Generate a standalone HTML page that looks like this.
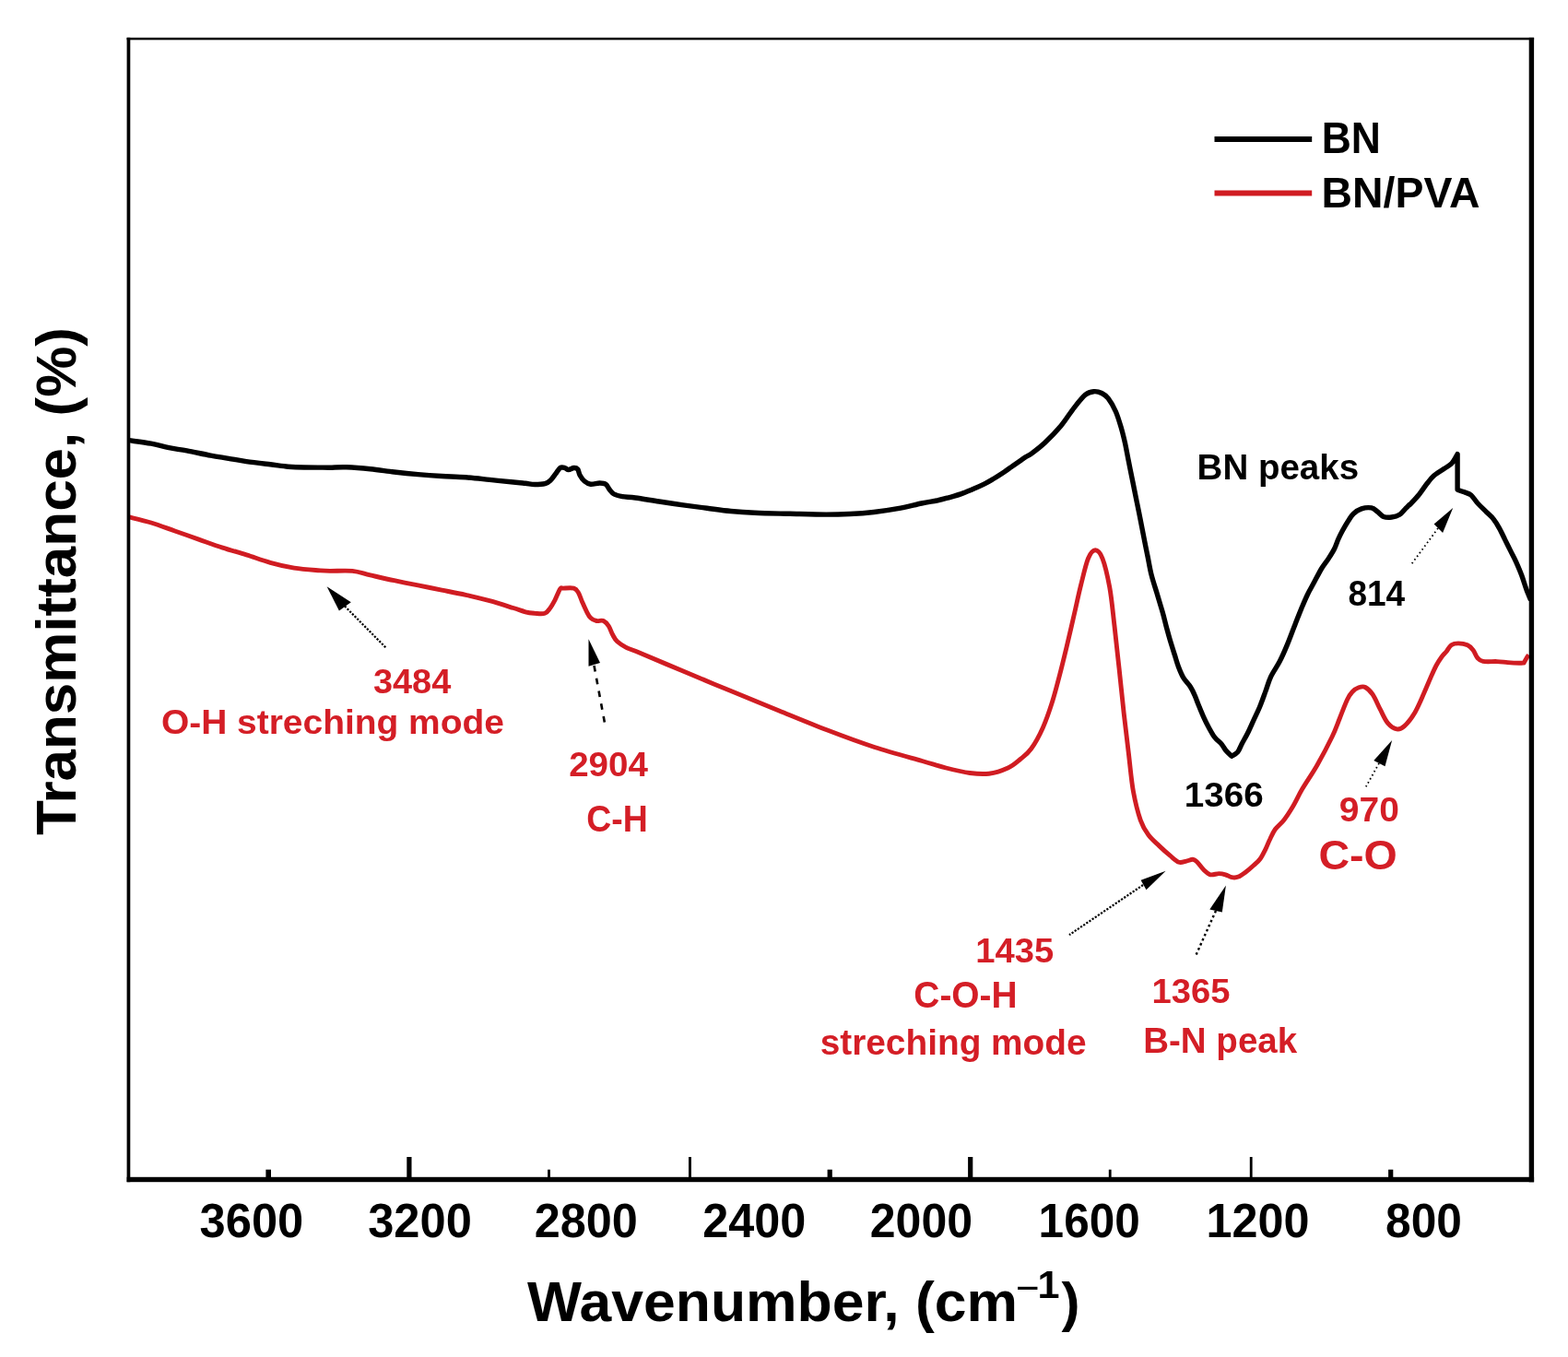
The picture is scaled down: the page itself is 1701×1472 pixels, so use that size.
<!DOCTYPE html>
<html><head><meta charset="utf-8"><title>FTIR spectra BN and BN/PVA</title>
<style>html,body{margin:0;padding:0;background:#fff;} svg{display:block;}</style>
</head><body>
<svg width="1701" height="1472" viewBox="0 0 1701 1472">
<rect width="1701" height="1472" fill="#fff"/>
<g font-family="Liberation Sans, Arial, sans-serif" font-weight="bold">
<text transform="translate(216.6,1341.5) scale(0.972,1)" font-size="52.11" fill="#000">3600</text>
<text transform="translate(399.2,1341.5) scale(0.972,1)" font-size="52.11" fill="#000">3200</text>
<text transform="translate(579.7,1341.5) scale(0.967,1)" font-size="52.11" fill="#000">2800</text>
<text transform="translate(762.2,1341.5) scale(0.967,1)" font-size="52.11" fill="#000">2400</text>
<text transform="translate(943.8,1341.5) scale(0.960,1)" font-size="52.11" fill="#000">2000</text>
<text transform="translate(1126.6,1341.5) scale(0.950,1)" font-size="52.11" fill="#000">1600</text>
<text transform="translate(1308.5,1341.5) scale(0.966,1)" font-size="52.11" fill="#000">1200</text>
<text transform="translate(1503.1,1341.5) scale(0.952,1)" font-size="52.11" fill="#000">800</text>
<text transform="translate(1433.7,166.3) scale(0.929,1)" font-size="47.83" fill="#000">BN</text>
<text x="1433.6" y="225.4" font-size="46.38" fill="#000">BN/PVA</text>
<text transform="translate(1298.6,520.0) scale(0.981,1)" font-size="39.26" fill="#000">BN peaks</text>
<text transform="translate(1462.4,656.9) scale(0.973,1)" font-size="38.03" fill="#000">814</text>
<text transform="translate(1284.7,874.9) scale(1.035,1)" font-size="37.32" fill="#000">1366</text>
<text transform="translate(404.9,751.9) scale(1.044,1)" font-size="36.34" fill="#d41e26">3484</text>
<text transform="translate(174.9,796.1) scale(1.040,1)" font-size="37.45" fill="#d41e26">O-H streching mode</text>
<text transform="translate(617.2,842.4) scale(1.021,1)" font-size="37.75" fill="#d41e26">2904</text>
<text transform="translate(636.2,902.1) scale(0.911,1)" font-size="41.13" fill="#d41e26">C-H</text>
<text transform="translate(1452.8,891.1) scale(1.041,1)" font-size="37.46" fill="#d41e26">970</text>
<text transform="translate(1430.4,942.9) scale(1.030,1)" font-size="45.21" fill="#d41e26">C-O</text>
<text transform="translate(1058.3,1043.8) scale(1.032,1)" font-size="37.04" fill="#d41e26">1435</text>
<text transform="translate(991.3,1092.7) scale(0.979,1)" font-size="39.72" fill="#d41e26">C-O-H</text>
<text transform="translate(889.7,1144.4) scale(1.019,1)" font-size="38.09" fill="#d41e26">streching mode</text>
<text transform="translate(1249.5,1087.8) scale(1.027,1)" font-size="37.18" fill="#d41e26">1365</text>
<text transform="translate(1240.2,1142.2) scale(0.979,1)" font-size="39.36" fill="#d41e26">B-N peak</text>
<text transform="translate(572,1432.5) scale(1.024,1)" font-size="61" fill="#000">Wavenumber, (cm</text><text x="1102" y="1412.2" font-size="44" font-weight="normal" fill="#000">−</text><text x="1125.5" y="1407.9" font-size="43.2" fill="#000">1</text><text x="1151.4" y="1432.5" font-size="60" fill="#000">)</text>
<text transform="translate(81.5,906) rotate(-90) scale(1.016,1)" font-size="61" fill="#000">Transmittance, (%)</text>
</g>
<path d="M140.0,477.7 C144.0,478.3 156.7,479.9 163.9,481.2 C171.1,482.5 176.8,484.4 183.3,485.7 C189.8,487.0 195.2,487.5 202.7,488.9 C210.2,490.3 221.0,492.7 228.5,494.1 C236.0,495.5 241.4,496.2 247.9,497.3 C254.4,498.4 259.8,499.5 267.3,500.6 C274.9,501.7 285.6,502.9 293.2,503.8 C300.8,504.7 306.5,505.7 312.6,506.2 C318.7,506.7 324.6,506.9 330.0,507.0 C335.4,507.1 340.2,507.1 344.9,507.1 C349.5,507.1 352.7,507.2 357.9,507.2 C363.1,507.1 368.6,506.5 375.9,506.8 C383.2,507.1 393.1,507.9 401.7,508.8 C410.3,509.7 419.0,511.0 427.6,512.0 C436.2,513.0 444.9,513.9 453.5,514.6 C462.1,515.4 470.7,516.0 479.3,516.5 C487.9,517.0 496.6,517.1 505.2,517.8 C513.8,518.4 522.5,519.5 531.1,520.4 C539.7,521.3 550.4,522.4 556.9,523.0 C563.4,523.6 566.0,523.9 569.9,524.3 C573.8,524.7 576.4,525.5 580.0,525.5 C583.6,525.5 588.5,525.3 591.3,524.6 C594.1,523.9 595.1,523.1 597.0,521.3 C598.9,519.5 601.0,516.2 602.8,513.9 C604.6,511.6 606.1,508.6 607.7,507.5 C609.4,506.4 611.2,507.1 612.7,507.5 C614.2,507.9 615.1,509.6 616.8,509.6 C618.4,509.6 621.0,507.6 622.6,507.5 C624.2,507.4 625.6,507.7 626.7,509.0 C627.8,510.3 627.9,513.3 629.1,515.5 C630.3,517.7 632.2,520.4 634.1,522.0 C636.0,523.6 638.0,524.9 640.7,525.2 C643.4,525.5 647.8,524.0 650.5,524.0 C653.2,524.0 655.3,524.0 657.1,525.2 C658.9,526.4 659.7,529.2 661.2,531.0 C662.7,532.8 663.9,534.7 666.2,536.0 C668.5,537.3 671.4,537.9 675.2,538.6 C679.1,539.3 682.7,539.1 689.3,540.0 C695.9,540.9 706.4,542.7 715.0,544.0 C723.6,545.3 732.4,546.6 741.1,547.8 C749.8,549.0 758.4,550.2 767.0,551.3 C775.6,552.4 784.2,553.7 792.8,554.5 C801.4,555.3 808.0,555.8 818.7,556.3 C829.4,556.8 844.1,557.0 857.0,557.3 C869.9,557.6 885.5,558.1 896.3,558.1 C907.1,558.1 913.4,557.9 922.0,557.5 C930.6,557.1 939.3,556.5 948.0,555.5 C956.7,554.5 965.4,553.3 974.0,551.7 C982.6,550.1 992.6,547.5 999.7,546.0 C1006.8,544.5 1011.5,544.0 1016.4,543.0 C1021.3,542.0 1024.7,541.0 1029.0,539.8 C1033.3,538.6 1038.0,537.4 1042.3,535.9 C1046.6,534.4 1050.7,532.6 1055.0,530.8 C1059.3,529.0 1064.3,526.8 1068.1,524.9 C1071.9,523.0 1074.8,521.2 1078.0,519.3 C1081.2,517.4 1084.3,515.4 1087.5,513.3 C1090.7,511.2 1093.8,508.9 1097.0,506.6 C1100.2,504.3 1104.2,501.6 1106.9,499.7 C1109.6,497.8 1110.8,496.9 1113.0,495.5 C1115.2,494.1 1116.5,493.9 1119.9,491.3 C1123.3,488.8 1128.3,485.1 1133.5,480.2 C1138.7,475.3 1145.8,468.0 1151.1,461.7 C1156.4,455.4 1160.8,447.9 1165.2,442.3 C1169.6,436.7 1174.0,431.1 1177.5,428.2 C1181.0,425.3 1183.5,425.0 1186.4,424.7 C1189.4,424.4 1192.6,425.2 1195.2,426.5 C1197.8,427.8 1199.7,428.9 1202.2,432.2 C1204.7,435.5 1208.0,441.1 1210.4,446.5 C1212.8,451.9 1214.8,459.0 1216.5,464.8 C1218.2,470.6 1219.2,475.0 1220.6,481.1 C1221.9,487.2 1223.2,494.7 1224.6,501.5 C1225.9,508.3 1227.3,515.1 1228.7,521.9 C1230.1,528.7 1231.4,535.5 1232.8,542.3 C1234.2,549.1 1235.6,555.8 1236.9,562.6 C1238.2,569.4 1239.6,576.2 1240.9,583.0 C1242.2,589.8 1243.6,596.6 1245.0,603.4 C1246.4,610.2 1247.4,616.9 1249.1,623.7 C1250.8,630.5 1253.2,637.3 1255.2,644.1 C1257.2,650.9 1259.6,658.5 1261.3,664.5 C1263.0,670.5 1264.0,675.2 1265.3,680.0 C1266.6,684.8 1267.4,687.9 1268.9,693.0 C1270.4,698.1 1272.7,705.3 1274.3,710.4 C1275.9,715.5 1276.9,719.3 1278.5,723.5 C1280.1,727.7 1281.7,731.8 1283.9,735.4 C1286.1,739.0 1289.5,742.1 1291.5,745.2 C1293.5,748.3 1294.5,750.6 1295.9,753.9 C1297.4,757.2 1298.6,760.8 1300.2,764.8 C1301.8,768.8 1303.9,773.8 1305.7,777.8 C1307.5,781.8 1309.1,785.1 1311.1,788.7 C1313.1,792.3 1315.2,796.5 1317.6,799.6 C1319.9,802.7 1323.2,804.9 1325.2,807.2 C1327.2,809.6 1327.8,811.5 1329.6,813.7 C1331.4,815.9 1335.0,819.1 1336.1,820.2 C1337.2,819.5 1340.8,818.1 1342.6,815.9 C1344.4,813.7 1345.2,810.7 1347.0,807.2 C1348.8,803.8 1351.3,799.6 1353.5,795.2 C1355.7,790.9 1357.8,785.8 1360.0,781.1 C1362.2,776.4 1364.3,772.2 1366.5,767.0 C1368.7,761.8 1371.0,755.1 1373.0,749.6 C1375.0,744.1 1376.0,739.6 1378.5,734.3 C1381.0,728.9 1385.2,723.3 1388.2,717.5 C1391.2,711.7 1393.5,706.4 1396.3,699.6 C1399.1,692.8 1402.6,683.2 1405.2,676.7 C1407.8,670.2 1409.5,665.6 1411.7,660.4 C1413.9,655.1 1415.9,650.1 1418.3,645.2 C1420.7,640.3 1423.4,635.8 1425.9,631.1 C1428.4,626.4 1431.0,621.2 1433.5,617.0 C1436.0,612.8 1438.8,609.7 1441.1,606.1 C1443.4,602.5 1445.8,598.8 1447.6,595.2 C1449.4,591.6 1450.5,587.5 1452.0,584.3 C1453.5,581.0 1454.5,579.0 1456.3,575.7 C1458.1,572.5 1460.8,567.9 1462.8,564.8 C1464.8,561.7 1465.9,559.4 1468.3,557.2 C1470.7,555.1 1473.8,553.0 1477.0,551.9 C1480.2,550.8 1484.9,550.4 1487.8,550.9 C1490.7,551.4 1492.1,553.4 1494.3,555.0 C1496.5,556.6 1498.4,559.4 1500.9,560.4 C1503.5,561.4 1506.7,561.4 1509.6,561.0 C1512.5,560.6 1515.8,559.8 1518.3,558.3 C1520.8,556.8 1523.0,553.5 1524.8,551.7 C1526.6,549.9 1528.3,548.1 1529.1,547.4 C1529.9,546.6 1528.0,549.1 1529.8,547.2 C1531.5,545.3 1536.5,540.0 1539.6,536.2 C1542.6,532.4 1545.4,527.9 1548.1,524.5 C1550.8,521.1 1552.4,518.7 1555.5,516.0 C1558.6,513.3 1563.2,510.8 1566.5,508.5 C1569.8,506.2 1572.6,505.2 1575.0,502.5 C1577.4,499.8 1580.1,494.2 1581.1,492.5 C1581.1,499.0 1581.1,524.8 1581.1,531.3 C1582.3,531.7 1586.0,532.8 1588.5,533.8 C1591.0,534.8 1593.4,535.0 1595.8,537.0 C1598.2,539.0 1600.2,542.9 1603.1,546.0 C1605.9,549.1 1610.1,552.9 1612.9,555.8 C1615.8,558.6 1618.0,560.2 1620.2,563.1 C1622.5,566.0 1624.4,569.2 1626.4,572.9 C1628.5,576.6 1630.5,581.0 1632.5,585.1 C1634.5,589.2 1636.6,593.3 1638.6,597.4 C1640.6,601.5 1642.7,605.1 1644.7,609.6 C1646.7,614.1 1649.0,619.4 1650.8,624.3 C1652.6,629.2 1654.1,634.4 1655.7,638.9 C1657.3,643.4 1659.8,649.1 1660.6,651.1" fill="none" stroke="#000" stroke-width="5.4" stroke-linejoin="round"/>
<path d="M140.0,560.9 C144.0,561.9 155.6,564.5 163.9,567.0 C172.2,569.5 181.1,573.0 189.7,576.0 C198.3,579.0 207.0,582.1 215.6,585.1 C224.2,588.1 232.9,591.3 241.5,594.1 C250.1,596.9 258.7,599.2 267.3,601.9 C275.9,604.6 284.6,607.9 293.2,610.3 C301.8,612.7 310.5,614.7 319.1,616.1 C327.7,617.5 338.4,618.2 344.9,618.7 C351.4,619.2 351.7,619.3 357.9,619.4 C364.1,619.5 375.0,618.6 382.3,619.4 C389.6,620.1 394.1,622.2 401.7,623.9 C409.2,625.6 419.0,627.9 427.6,629.7 C436.2,631.5 444.9,633.2 453.5,634.9 C462.1,636.6 470.7,638.4 479.3,640.1 C487.9,641.8 496.6,643.4 505.2,645.3 C513.8,647.2 522.5,649.3 531.1,651.7 C539.7,654.1 550.4,657.5 556.9,659.5 C563.4,661.5 566.1,662.8 570.0,663.8 C573.9,664.8 576.5,665.0 580.0,665.3 C583.5,665.5 588.3,666.3 591.1,665.3 C593.9,664.3 595.1,661.8 596.9,659.5 C598.7,657.2 600.0,654.7 601.8,651.3 C603.6,647.9 606.1,641.1 607.6,638.9 C609.1,636.7 608.5,638.2 611.0,638.1 C613.5,638.0 619.9,637.3 622.6,638.1 C625.4,638.9 626.0,640.5 627.5,643.0 C629.0,645.5 630.1,649.5 631.6,652.9 C633.1,656.3 635.0,660.7 636.5,663.6 C638.0,666.5 638.9,668.6 640.7,670.2 C642.5,671.9 644.9,673.0 647.2,673.5 C649.5,674.0 652.5,672.5 654.7,673.5 C656.9,674.5 658.8,676.8 660.4,679.3 C662.0,681.8 663.0,685.6 664.5,688.3 C666.0,691.0 667.0,693.4 669.5,695.7 C672.0,698.0 675.9,700.5 679.3,702.3 C682.7,704.1 679.6,702.3 690.0,706.6 C700.4,710.9 724.5,721.1 741.7,728.3 C759.0,735.5 776.2,742.7 793.5,749.8 C810.8,756.9 828.0,764.0 845.2,771.0 C862.4,778.0 879.6,785.2 896.9,791.8 C914.1,798.4 931.5,804.9 948.7,810.5 C966.0,816.1 987.5,821.8 1000.4,825.5 C1013.3,829.2 1017.7,830.8 1026.3,833.0 C1034.9,835.2 1044.3,837.5 1052.1,838.5 C1059.8,839.5 1065.9,840.1 1072.8,839.2 C1079.7,838.3 1087.8,835.6 1093.5,833.0 C1099.2,830.4 1102.7,827.0 1106.9,823.5 C1111.1,820.0 1114.5,818.0 1118.6,812.3 C1122.7,806.6 1127.6,797.8 1131.4,789.2 C1135.2,780.6 1138.7,770.3 1141.7,760.8 C1144.7,751.3 1146.9,742.3 1149.5,732.4 C1152.1,722.5 1154.6,712.2 1157.2,701.4 C1159.8,690.6 1162.4,679.0 1165.0,667.8 C1167.6,656.6 1170.1,644.5 1172.7,634.2 C1175.3,623.9 1177.9,612.0 1180.5,605.8 C1183.1,599.6 1185.6,596.8 1188.2,596.8 C1190.8,596.8 1193.4,599.1 1196.0,605.8 C1198.6,612.5 1201.5,624.8 1203.7,636.8 C1205.9,648.8 1207.2,663.5 1208.9,678.1 C1210.6,692.7 1212.3,708.7 1214.0,724.6 C1215.7,740.5 1217.5,758.2 1219.2,773.7 C1220.9,789.2 1222.7,803.4 1224.4,817.6 C1226.1,831.8 1227.3,846.9 1229.5,858.9 C1231.7,870.9 1234.6,882.1 1237.3,889.9 C1240.0,897.7 1242.5,901.2 1245.9,905.8 C1249.3,910.4 1253.7,913.9 1257.6,917.6 C1261.5,921.3 1265.9,925.3 1269.4,928.2 C1272.9,931.1 1275.9,934.2 1278.8,935.2 C1281.7,936.2 1284.5,934.6 1287.0,934.1 C1289.5,933.6 1292.1,932.1 1294.1,932.3 C1296.1,932.5 1296.8,933.3 1298.8,935.2 C1300.8,937.1 1303.4,941.2 1305.8,943.5 C1308.2,945.8 1310.2,948.1 1312.9,948.8 C1315.7,949.5 1319.5,947.6 1322.3,947.6 C1325.0,947.6 1327.1,948.1 1329.4,948.8 C1331.8,949.5 1334.1,951.3 1336.4,951.7 C1338.8,952.1 1341.0,952.1 1343.5,951.1 C1346.0,950.1 1349.0,947.8 1351.7,945.8 C1354.4,943.8 1357.4,941.1 1359.9,938.8 C1362.5,936.4 1364.8,934.7 1367.0,931.7 C1369.2,928.8 1371.1,924.6 1372.9,921.1 C1374.7,917.6 1375.8,914.1 1377.6,910.5 C1379.3,906.9 1380.9,903.0 1383.4,899.5 C1386.0,896.0 1389.8,893.4 1392.9,889.4 C1396.1,885.4 1399.0,880.8 1402.3,875.3 C1405.6,869.8 1408.2,863.6 1412.6,856.1 C1417.0,848.6 1423.5,839.5 1428.9,830.0 C1434.3,820.5 1441.1,807.5 1445.2,799.0 C1449.3,790.5 1450.7,785.7 1453.4,779.0 C1456.1,772.3 1459.2,763.8 1461.5,759.0 C1463.8,754.2 1464.9,752.7 1467.0,750.5 C1469.1,748.3 1471.7,746.6 1474.0,745.8 C1476.3,745.0 1478.6,744.2 1481.1,745.5 C1483.6,746.8 1486.5,749.4 1489.2,753.4 C1491.9,757.4 1494.7,764.5 1497.4,769.7 C1500.1,774.9 1502.5,780.9 1505.5,784.4 C1508.5,787.9 1512.3,790.4 1515.3,790.9 C1518.3,791.4 1520.2,790.6 1523.5,787.6 C1526.8,784.6 1531.4,778.8 1534.9,772.9 C1538.4,767.0 1541.9,758.3 1544.7,752.0 C1547.5,745.7 1549.8,740.0 1552.0,735.0 C1554.2,730.0 1556.0,725.8 1558.0,722.0 C1560.0,718.2 1562.2,715.0 1564.0,712.5 C1565.8,710.0 1567.4,708.8 1569.1,706.7 C1570.8,704.6 1572.2,701.3 1574.4,699.8 C1576.6,698.3 1579.1,697.9 1582.0,697.9 C1584.9,697.9 1589.3,698.6 1592.0,699.8 C1594.7,701.0 1596.3,702.9 1598.1,705.2 C1599.9,707.5 1600.9,711.5 1602.7,713.5 C1604.5,715.5 1605.2,716.7 1608.8,717.4 C1612.4,718.1 1619.6,717.4 1624.1,717.6 C1628.6,717.8 1631.6,718.3 1635.6,718.6 C1639.6,718.9 1645.1,719.2 1648.0,719.3 C1650.9,719.4 1652.3,719.0 1653.2,719.0 C1653.7,718.1 1655.3,714.9 1656.2,713.5 C1657.1,712.1 1658.1,711.0 1658.5,710.5" fill="none" stroke="#d01c22" stroke-width="4.9" stroke-linejoin="round"/>
<polygon points="354.6,636.3 380.8,653.3 367.9,662.5" fill="#000"/><line x1="374" y1="657.5" x2="418.5" y2="702.5" stroke="#000" stroke-width="2.2" stroke-dasharray="2.2 1.6"/><polygon points="638.5,693.3 638.5,722.8 651,719" fill="#000"/><line x1="644.5" y1="722" x2="656.5" y2="787" stroke="#000" stroke-width="2.6" stroke-dasharray="6.5 7.5"/><polygon points="1264.6,944.7 1237.6,954.7 1243.5,965.3" fill="#000"/><line x1="1240" y1="960" x2="1160" y2="1014.1" stroke="#000" stroke-width="2.2" stroke-dasharray="2.2 1.6"/><polygon points="1329.9,960.6 1312.3,986.4 1325.8,989.4" fill="#000"/><line x1="1319" y1="988" x2="1296.4" y2="1038.2" stroke="#000" stroke-width="2.4" stroke-dasharray="2.5 3"/><polygon points="1576.2,551 1555.6,568.4 1565.1,577.9" fill="#000"/><line x1="1560" y1="573" x2="1531.7" y2="611.3" stroke="#000" stroke-width="1.8" stroke-dasharray="1.6 3"/><polygon points="1510.1,803 1490.3,825.1 1502.5,831.3" fill="#000"/><line x1="1496" y1="828" x2="1481.8" y2="853.4" stroke="#000" stroke-width="1.8" stroke-dasharray="1.6 3"/>
<line x1="1317.5" y1="151" x2="1423.2" y2="151" stroke="#000" stroke-width="6"/>
<line x1="1317.5" y1="209.5" x2="1423.2" y2="209.5" stroke="#d01c22" stroke-width="5.8"/>
<rect x="288.4" y="1268.7" width="5.6" height="10.3" fill="#000"/><rect x="441.3" y="1255" width="5.2" height="24.0" fill="#000"/><rect x="594.1" y="1268.7" width="2.8" height="10.3" fill="#000"/><rect x="747.0" y="1255" width="2.9" height="24.0" fill="#000"/><rect x="897.6" y="1268.7" width="5.2" height="10.3" fill="#000"/><rect x="1050.1" y="1255" width="5.2" height="24.0" fill="#000"/><rect x="1202.8" y="1268.7" width="2.8" height="10.3" fill="#000"/><rect x="1355.8" y="1255" width="2.8" height="24.0" fill="#000"/><rect x="1506.1" y="1268.7" width="5.2" height="10.3" fill="#000"/>
<rect x="1658.7" y="40.8" width="5.4" height="1241.5" fill="#000"/>
<rect x="137.6" y="1276.8" width="1526.5" height="5.4" fill="#000"/>
<rect x="137.6" y="40.8" width="3.7" height="1241.4" fill="#000"/>
<rect x="137.6" y="40.8" width="1526.5" height="2.5" fill="#000"/>
</svg>
</body></html>
